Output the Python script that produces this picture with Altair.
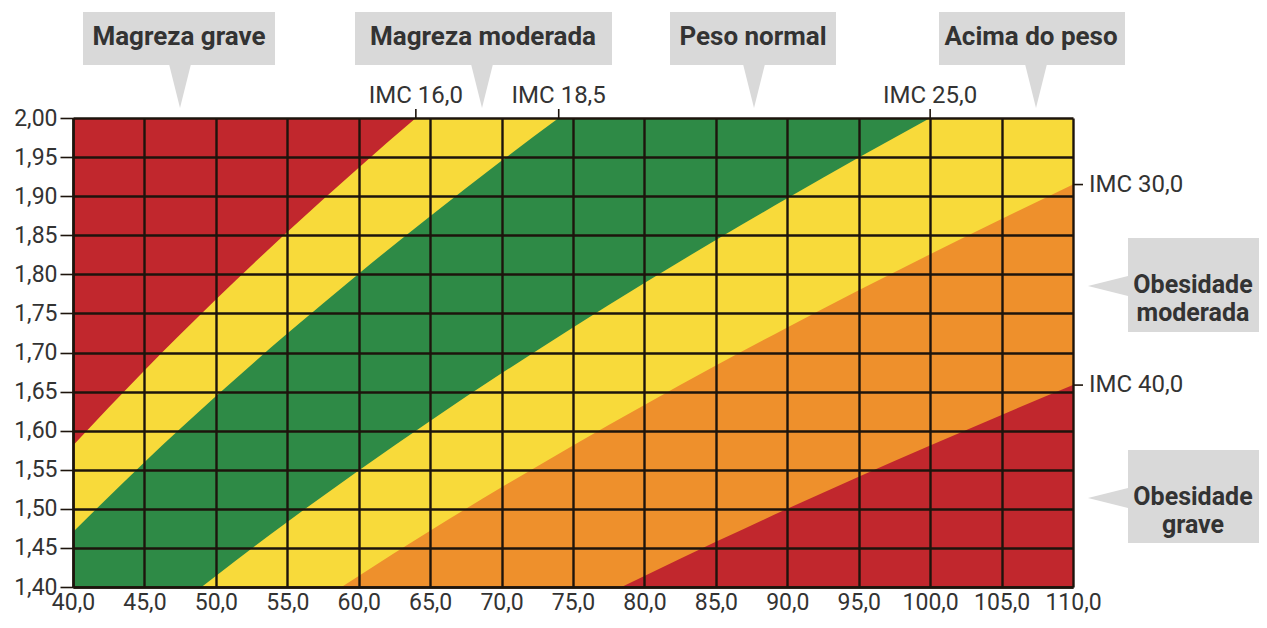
import altair as alt
import pandas as pd

# ---------------- data ----------------
pesos = [40, 45, 50, 55, 60, 65, 70, 75, 80, 85, 90, 95, 100, 105, 110]
alturas = [1.40, 1.45, 1.50, 1.55, 1.60, 1.65, 1.70, 1.75, 1.80, 1.85, 1.90, 1.95, 2.00]
imc_limites = [16.0, 18.5, 25.0, 30.0, 40.0]
cores_abaixo = ["#F8DA3A", "#2E8A46", "#F8DA3A", "#EE902C", "#C1272D"]
cor_fundo = "#C1272D"
imc_topo = [16.0, 18.5, 25.0]
imc_direita = [30.0, 40.0]
rotulos_topo = ["Magreza grave", "Magreza moderada", "Peso normal", "Acima do peso"]
rotulos_direita = ["Obesidade\nmoderada", "Obesidade\ngrave"]

# ---------------- style ----------------
FONT = "Roboto, Liberation Sans, sans-serif"
TXT = "#333333"
GRID = "#1d140c"
BOX = "#D9D9D9"
W, H = 1000, 469

xs = alt.Scale(domain=[40, 110], nice=False, zero=False)
ys = alt.Scale(domain=[1.40, 2.00], nice=False, zero=False)
xaxis = alt.Axis(values=pesos, title=None, ticks=False, grid=True, gridColor=GRID,
                 gridWidth=2.4, gridOpacity=1, domainColor=GRID, domainWidth=2.4,
                 format=".1f",
                 labelExpr="replace(format(datum.value, '.1f'), '.', ',')",
                 labelFont=FONT, labelFontSize=23, labelColor=TXT, labelPadding=4,
                 labelFlush=False, labelOverlap=False, labelBound=False, zindex=1)
yaxis = alt.Axis(values=alturas, title=None, ticks=True, tickSize=13, tickColor=GRID,
                 tickWidth=1.6, grid=True, gridColor=GRID, gridWidth=2.4, gridOpacity=1,
                 domainColor=GRID, domainWidth=2.4, format=".2f",
                 labelExpr="replace(format(datum.value, '.2f'), '.', ',')",
                 labelFont=FONT, labelFontSize=23, labelColor=TXT, labelPadding=3,
                 labelFlush=False, labelOverlap=False, labelBound=False, zindex=1)

layers = []
# background (lowest BMI band)
layers.append(alt.Chart(pd.DataFrame({"f": [0]})).mark_rect(color=cor_fundo).encode(
    x=alt.X(datum=pesos[0], scale=xs, axis=xaxis), x2=alt.datum(pesos[-1]),
    y=alt.Y(datum=alturas[0], scale=ys, axis=yaxis), y2=alt.datum(alturas[-1])))

base = pd.DataFrame({"peso": pesos})
for imc, cor in zip(imc_limites, cores_abaixo):
    layers.append(
        alt.Chart(base)
        .transform_calculate(altura=f"sqrt(datum.peso / {imc})")
        .mark_area(color=cor, clip=True, interpolate="monotone", opacity=1)
        .encode(x=alt.X("peso:Q", scale=xs, axis=xaxis),
                y=alt.Y("altura:Q", scale=ys, axis=yaxis),
                y2=alt.datum(1.40))
    )

# IMC labels on top edge (where the limit curve meets height 2,00)
topo = alt.Chart(pd.DataFrame({"imc": imc_topo})).transform_calculate(
    peso="datum.imc * 2 * 2",
    rot="'IMC ' + replace(format(datum.imc, '.1f'), '.', ',')")
layers.append(topo.mark_rule(color=GRID, strokeWidth=1.6).encode(
    x=alt.X("peso:Q", scale=xs, axis=xaxis), y=alt.value(-9), y2=alt.value(0)))
layers.append(topo.mark_text(font=FONT, fontSize=24, color=TXT, baseline="alphabetic",
                             align="center").encode(
    x=alt.X("peso:Q", scale=xs, axis=xaxis), y=alt.value(-15), text="rot:N"))

# IMC labels on right edge (where the limit curve meets weight 110)
direita = alt.Chart(pd.DataFrame({"imc": imc_direita})).transform_calculate(
    altura="sqrt(110 / datum.imc)",
    rot="'IMC ' + replace(format(datum.imc, '.1f'), '.', ',')")
layers.append(direita.mark_rule(color=GRID, strokeWidth=1.6).encode(
    y=alt.Y("altura:Q", scale=ys, axis=yaxis), x=alt.value(W + 1), x2=alt.value(W + 10)))
layers.append(direita.mark_text(font=FONT, fontSize=24, color=TXT, baseline="middle",
                                align="left").encode(
    y=alt.Y("altura:Q", scale=ys, axis=yaxis), x=alt.value(W + 16), text="rot:N"))

# callout boxes (layout in pixels relative to plot origin)
TRI_DOWN = "M-0.5,-1L0.5,-1L0,1Z"
TRI_LEFT = "M1,-0.5L1,0.5L-1,0Z"
callouts_topo = [  # x0, x1, text x, tip x
    (10, 202, 106, 107),
    (282, 539, 410, 409),
    (597, 763, 680, 681),
    (866, 1052, 958, 963),
]
for rot, (x0, x1, xt, xp) in zip(rotulos_topo, callouts_topo):
    d = pd.DataFrame({"t": [rot]})
    layers.append(alt.Chart(d).mark_rect(color=BOX).encode(
        x=alt.value(x0), x2=alt.value(x1), y=alt.value(-106), y2=alt.value(-53)))
    layers.append(alt.Chart(d).mark_point(shape=TRI_DOWN, filled=True, fill=BOX,
                                          opacity=1, strokeWidth=0, size=43 * 43).encode(
        x=alt.value(xp), y=alt.value(-31.5)))
    layers.append(alt.Chart(d).mark_text(font=FONT, fontSize=26, fontWeight="bold",
                                         color=TXT, baseline="middle", align="center").encode(
        x=alt.value(xt), y=alt.value(-81), text="t:N"))

callouts_dir = [  # y0, y1, text y, tip y
    (120, 214, 167, 168),
    (332, 425, 379, 380),
]
for rot, (y0, y1, yt, yp) in zip(rotulos_direita, callouts_dir):
    d = pd.DataFrame({"t": [rot]})
    layers.append(alt.Chart(d).mark_rect(color=BOX).encode(
        x=alt.value(1055), x2=alt.value(1200), y=alt.value(y0), y2=alt.value(y1)))
    layers.append(alt.Chart(d).mark_point(shape=TRI_LEFT, filled=True, fill=BOX,
                                          opacity=1, strokeWidth=0, size=40 * 40).encode(
        x=alt.value(1035), y=alt.value(yp)))
    layers.append(alt.Chart(d).mark_text(font=FONT, fontSize=25, fontWeight="bold",
                                         color=TXT, baseline="middle", align="center",
                                         lineBreak="\n", lineHeight=28).encode(
        x=alt.value(1120), y=alt.value(yt), text="t:N"))

chart = (
    alt.layer(*layers)
    .properties(width=W, height=H, autosize=alt.AutoSizeParams(type="none"),
                padding={"left": 65, "top": 110, "right": 186, "bottom": 28})
    .configure(locale={"number": {"decimal": ",", "thousands": ".",
                                  "grouping": [3], "currency": ["R$", ""]}})
    .configure_view(stroke=None)
)

chart.save("out.html", embed_options={"renderer": "svg", "actions": False})
